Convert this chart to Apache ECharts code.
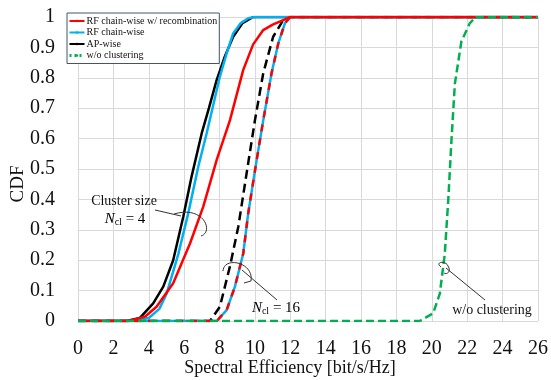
<!DOCTYPE html>
<html>
<head>
<meta charset="utf-8">
<script src="https://cdn.jsdelivr.net/npm/echarts@6/dist/echarts.min.js"></script>
<style>
  html, body { margin: 0; padding: 0; background: #fff; }
  #Cdf { width: 551px; height: 380px; }
</style>
</head>
<body>
<div id="Cdf"></div>
<script>
// 数据 [spectral efficiency, CDF]
var xTicks = [0, 2, 4, 6, 8, 10, 12, 14, 16, 18, 20, 22, 24, 26]
var yTicks = [0, 0.1, 0.2, 0.3, 0.4, 0.5, 0.6, 0.7, 0.8, 0.9, 1]

// N_cl = 4
var apWise4 = [[0,0],[2.75,0],[3.5,0.01],[4.25,0.058],[4.82,0.113],[5.38,0.2],[5.95,0.343],[6.42,0.475],[6.99,0.617],[7.4,0.7],[7.84,0.793],[8.3,0.87],[8.77,0.935],[9.3,0.98],[9.9,1],[26,1]]
var rfWise4 = [[0,0],[3.1,0],[4.0,0.01],[4.6,0.04],[5.01,0.09],[5.67,0.22],[6.23,0.354],[6.8,0.508],[7.27,0.617],[8.02,0.804],[8.4,0.88],[8.77,0.946],[9.2,0.98],[9.62,0.996],[10,1],[26,1]]
var rfRecomb4 = [[0,0],[2.9,0],[3.8,0.015],[4.44,0.047],[5.38,0.124],[6.33,0.255],[7.08,0.376],[7.84,0.53],[8.59,0.661],[9.34,0.826],[9.9,0.91],[10.47,0.957],[11.0,0.975],[11.6,0.99],[12,1],[26,1]]

// N_cl = 16
var apWise16 = [[0,0],[7.46,0],[8.02,0.047],[8.59,0.18],[9.06,0.31],[9.53,0.486],[10.0,0.66],[10.47,0.815],[11.03,0.935],[11.6,0.99],[12,1],[26,1]]
var rfWise16 = [[0,0],[7.84,0],[8.4,0.036],[8.87,0.113],[9.34,0.222],[9.62,0.354],[10.1,0.53],[10.47,0.66],[10.94,0.815],[11.32,0.913],[11.7,0.98],[12,1],[26,1]]
var rfRecomb16 = [[0,0],[7.84,0],[8.4,0.036],[8.87,0.113],[9.34,0.222],[9.62,0.354],[10.1,0.53],[10.47,0.66],[10.94,0.815],[11.32,0.913],[11.7,0.98],[12,1],[26,1]]

// w/o clustering
var noCluster = [[0,0],[19.32,0],[20.07,0.025],[20.45,0.09],[20.73,0.22],[20.93,0.4],[21.11,0.595],[21.3,0.78],[21.67,0.92],[22.15,0.98],[22.5,1],[26,1]]

var names = ["RF chain-wise w/ recombination", "RF chain-wise", "AP-wise", "w/o clustering"]
var RED = "#ff0000", BLUE = "#00b0f0", BLACK = "#000000", GREEN = "#00b050"
var SERIF = "'Liberation Serif', 'DejaVu Serif', serif"

function line(name, data, color, dash, z) {
  return {
    type: "line", name: name, data: data, showSymbol: false, symbol: "none",
    z: z, animation: false,
    lineStyle: { color: color, width: 2.5, type: dash || "solid" },
    itemStyle: { color: color }
  }
}

var nRich = {
  n: { fontFamily: SERIF, fontStyle: "italic", fontSize: 15, color: "#111" },
  s: { fontFamily: SERIF, fontSize: 10, color: "#111", padding: [7, 0, 0, 0] },
  t: { fontFamily: SERIF, fontSize: 15, color: "#111" }
}

var Echarts = echarts.init(document.getElementById("Cdf"))
Echarts.setOption({
  animation: false,
  backgroundColor: "#fff",
  grid: { left: 78, right: 13, top: 17, bottom: 59, outerBoundsMode: "none", containLabel: false },
  legend: {
    orient: "vertical", left: 67, top: 13,
    data: [
      { name: names[0] },
      { name: names[1] },
      { name: names[2] },
      { name: names[3], lineStyle: { type: [2, 3], width: 3 } }
    ],
    itemWidth: 15, itemHeight: 3, itemGap: 1.5,
    padding: [3, 2, 3, 1],
    borderColor: "#44546a", borderWidth: 1, backgroundColor: "#fff",
    textStyle: { fontFamily: SERIF, fontSize: 10, color: "#111", padding: [0, 0, 0, -3] },
    z: 10
  },
  xAxis: {
    type: "value", min: 0, max: 26, interval: 2,
    name: "Spectral Efficiency [bit/s/Hz]", nameLocation: "middle", nameGap: 38, nameMoveOverlap: false,
    nameTextStyle: { fontFamily: SERIF, fontSize: 18, color: "#111", padding: [0, 36, 0, 0] },
    axisLine: { show: false }, axisTick: { show: false },
    axisLabel: { fontFamily: SERIF, fontSize: 20, color: "#111", margin: 18 },
    splitLine: { lineStyle: { color: "#d9d9d9", width: 1 } }
  },
  yAxis: {
    type: "value", min: 0, max: 1, interval: 0.1,
    name: "CDF", nameLocation: "middle", nameGap: 50, nameRotate: 90, nameMoveOverlap: false,
    nameTextStyle: { fontFamily: SERIF, fontSize: 19, color: "#111", padding: [0, 0, 0, -30] },
    axisLine: { show: false }, axisTick: { show: false },
    axisLabel: { fontFamily: SERIF, fontSize: 20, color: "#111", margin: 23 },
    splitLine: { lineStyle: { color: "#d9d9d9", width: 1 } }
  },
  series: [
    line(names[2], apWise4, BLACK, "solid", 2),
    line(names[2], apWise16, BLACK, [9, 5], 2),
    line(names[1], rfWise4, BLUE, "solid", 3),
    line(names[1], rfWise16, BLUE, "solid", 3),
    line(names[0], rfRecomb4, RED, "solid", 4),
    line(names[0], rfRecomb16, RED, [7, 7], 4),
    line(names[3], noCluster, GREEN, [8, 4], 5)
  ],
  // 注释
  graphic: [
    { type: "text", z: 20, style: { text: "Cluster size", x: 124, y: 201, textAlign: "center", textVerticalAlign: "middle", font: "14px " + SERIF, fill: "#111" } },
    { type: "text", z: 20, style: { text: "{n|N}{s|cl}{t| = 4}", x: 125, y: 219, textAlign: "center", textVerticalAlign: "middle", rich: nRich } },
    { type: "line", z: 20, shape: { x1: 155, y1: 210, x2: 181, y2: 216 }, style: { stroke: "#333", lineWidth: 1 } },
    { type: "bezierCurve", z: 20, shape: { x1: 174, y1: 214, cpx1: 204, cpy1: 205, cpx2: 214, cpy2: 232, x2: 201, y2: 236 }, style: { stroke: "#333", lineWidth: 1, fill: null } },

    { type: "text", z: 20, style: { text: "{n|N}{s|cl}{t| = 16}", x: 276, y: 308, textAlign: "center", textVerticalAlign: "middle", rich: nRich } },
    { type: "line", z: 20, shape: { x1: 242, y1: 270, x2: 277, y2: 300 }, style: { stroke: "#333", lineWidth: 1 } },
    { type: "bezierCurve", z: 20, shape: { x1: 223, y1: 271, cpx1: 224, cpy1: 256, cpx2: 254, cpy2: 262, x2: 251, y2: 281 }, style: { stroke: "#333", lineWidth: 1, fill: null } },
    { type: "line", z: 20, shape: { x1: 251, y1: 281, x2: 244, y2: 283 }, style: { stroke: "#333", lineWidth: 1 } },

    { type: "text", z: 20, style: { text: "w/o clustering", x: 492, y: 310, textAlign: "center", textVerticalAlign: "middle", font: "14px " + SERIF, fill: "#111" } },
    { type: "line", z: 20, shape: { x1: 446, y1: 268, x2: 485, y2: 300 }, style: { stroke: "#333", lineWidth: 1 } },
    { type: "bezierCurve", z: 20, shape: { x1: 441, y1: 267, cpx1: 434, cpy1: 262, cpx2: 446, cpy2: 260, x2: 448, y2: 266 }, style: { stroke: "#333", lineWidth: 1, fill: null } },
    { type: "bezierCurve", z: 20, shape: { x1: 448, y1: 266, cpx1: 452, cpy1: 272, cpx2: 446, cpy2: 275, x2: 444, y2: 273 }, style: { stroke: "#333", lineWidth: 1, fill: null } }
  ]
})
</script>
</body>
</html>
